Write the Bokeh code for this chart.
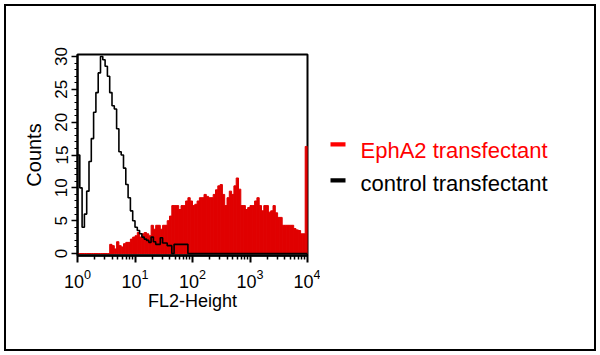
import numpy as np
from bokeh.plotting import figure
from bokeh.layouts import row
from bokeh.models import FixedTicker, Range1d
from bokeh.core.properties import value
from bokeh.embed import file_html
from bokeh.resources import INLINE

# ---- data -------------------------------------------------------------
decade_ticks = [1, 10, 100, 1000, 10000]
count_ticks = [0, 5, 10, 15, 20, 25, 30]
count_minor_ticks = list(range(0, 31))
n_bins = 100
bin_edges = np.logspace(0, 4, n_bins + 1)   # 100 log channels, 10^0 .. 10^4

control_counts = [
    15, 10, 4, 6, 9.5, 14, 17.5, 21.5, 24.5, 27.5,
    30, 29.5, 28.5, 27, 24.5, 22.5, 22, 19, 15.5, 15,
    13, 10.5, 8.5, 6.5, 5, 4, 3.5, 3, 2.5, 2.2,
    2, 1.7, 2.5, 1.8, 1.4, 1.4, 2.4, 1.6, 1.6, 1.2,
    1.2, 0, 1.4, 1.4, 1.4, 1.4, 1.4, 1.4, 0, 0,
    0, 0, 0, 0, 0, 0, 0, 0, 0, 0,
    0, 0, 0, 0, 0, 0, 0, 0, 0, 0,
    0, 0, 0, 0, 0, 0, 0, 0, 0, 0,
    0, 0, 0, 0, 0, 0, 0, 0, 0, 0,
    0, 0, 0, 0, 0, 0, 0, 0, 0, 0,
]
epha2_counts = [
    0, 0, 0, 0, 0, 0, 0, 0, 0, 0,
    0, 0, 0, 0, 1.4, 1.2, 0.7, 1.8, 1.2, 1,
    1.5, 1.7, 1.7, 2.2, 2.5, 2.7, 3.2, 2.5, 3, 3.2,
    3, 2.7, 4.3, 3.7, 4.3, 4.3, 3.7, 4.3, 4.3, 5,
    5.7, 7.3, 7.3, 7.3, 6.7, 7.3, 7.3, 8, 8.5, 8,
    7.3, 7.5, 8, 8.5, 8.5, 9, 8.7, 8.5, 8.5, 9,
    9.7, 10.3, 10.5, 9, 7.3, 8.5, 9.5, 9, 10.3, 11.5,
    9.8, 7.3, 7.3, 6.7, 7, 7.3, 7.3, 8, 8.5, 7.3,
    6.5, 7.3, 7.3, 6.3, 6.5, 7.3, 6.2, 5.5, 5.5, 4.3,
    4.3, 4.3, 4.3, 4.3, 3.8, 3.6, 3.5, 3, 3, 16.3,
]
series_names = ["EphA2 transfectant", "control transfectant"]
series_colors = ["#ff0000", "#000000"]
fill_red = "#e00000"
x_title = "FL2-Height"
y_title = "Counts"

# ---- layout -----------------------------------------------------------
W1, W2, H = 320, 280, 355
FL, FT, FR, FB = 77, 54, 307, 255          # plot frame in window pixels
FONT = "Liberation Sans"

p = figure(width=W1, height=H, x_axis_type="log",
           x_range=Range1d(1, 10000), y_range=Range1d(-0.3, 30.3),
           output_backend="svg", toolbar_location=None,
           min_border_left=FL, min_border_right=W1 - FR,
           min_border_top=FT, min_border_bottom=H - FB)
p.grid.visible = False
p.outline_line_color = "black"
p.outline_line_width = 2
p.border_fill_color = None
p.background_fill_color = "white"

# red filled histogram
p.quad(left=bin_edges[:-1], right=bin_edges[1:], bottom=0, top=epha2_counts,
       fill_color=fill_red, line_color=fill_red, line_width=1)

# black line histogram
cc = np.asarray(control_counts, dtype=float)
xs = np.concatenate([[bin_edges[0]],
                     np.column_stack([bin_edges[:-1], bin_edges[1:]]).ravel(),
                     [bin_edges[-1]]])
ys = np.concatenate([[0.0], np.repeat(cc, 2), [0.0]])
p.line(xs, ys, line_color="black", line_width=1.6)

# y axis
ya = p.yaxis[0]
ya.ticker = FixedTicker(ticks=count_ticks, minor_ticks=count_minor_ticks)
ya.axis_line_width = 2
ya.major_tick_in = 0
ya.major_tick_out = 6
ya.minor_tick_in = 0
ya.minor_tick_out = 3
ya.major_tick_line_width = 1.5
ya.minor_tick_line_width = 1.2
ya.major_label_orientation = "vertical"
ya.major_label_text_font = FONT
ya.major_label_text_font_size = "17px"
ya.major_label_text_color = "black"
ya.major_label_standoff = 4
ya.axis_label = y_title
ya.axis_label_text_font = FONT
ya.axis_label_text_font_size = "20px"
ya.axis_label_text_font_style = "normal"
ya.axis_label_text_color = "black"
ya.axis_label_standoff = 8

# x axis (log, labels 10^n)
xa = p.xaxis[0]
xa.ticker = FixedTicker(ticks=decade_ticks,
                        minor_ticks=[m * 10 ** d for d in range(4) for m in range(2, 10)])
xa.axis_line_width = 2.5
xa.major_tick_in = 0
xa.major_tick_out = 7
xa.minor_tick_in = 0
xa.minor_tick_out = 4
xa.major_tick_line_width = 2
xa.minor_tick_line_width = 1.5
xa.major_label_text_font = FONT
xa.major_label_text_font_size = "18px"
xa.major_label_text_color = "black"
xa.major_label_standoff = 6
xa.axis_label = x_title
xa.axis_label_text_font = FONT
xa.axis_label_text_font_size = "18px"
xa.axis_label_text_font_style = "normal"
xa.axis_label_text_color = "black"
xa.axis_label_standoff = 0

# ---- legend panel: frame aligned with the plot frame, window-pixel coords
q = figure(width=W2, height=H, x_range=Range1d(W1, W1 + W2), y_range=Range1d(FB, FT),
           output_backend="svg", toolbar_location=None,
           x_axis_location=None, y_axis_location=None,
           min_border_left=0, min_border_right=0,
           min_border_top=FT, min_border_bottom=H - FB)
q.grid.visible = False
q.outline_line_color = None
q.background_fill_color = None
q.border_fill_color = None

legend_y = [143.8, 179.8]                   # centre of each legend key
q.rect(x=[337.5, 337.5], y=legend_y, width=15, height=4.3,
       fill_color=series_colors, line_color=None)
q.text(x=[360, 360], y=[150, 183.3], text=series_names, text_color=series_colors,
       text_font=value(FONT), text_font_size="22px", text_align="left",
       text_baseline="alphabetic")

layout = row(p, q, spacing=0,
             styles={"outline": "2.5px solid black", "outline-offset": "-6.5px"})

open("out.html", "w").write(file_html(layout, INLINE))
